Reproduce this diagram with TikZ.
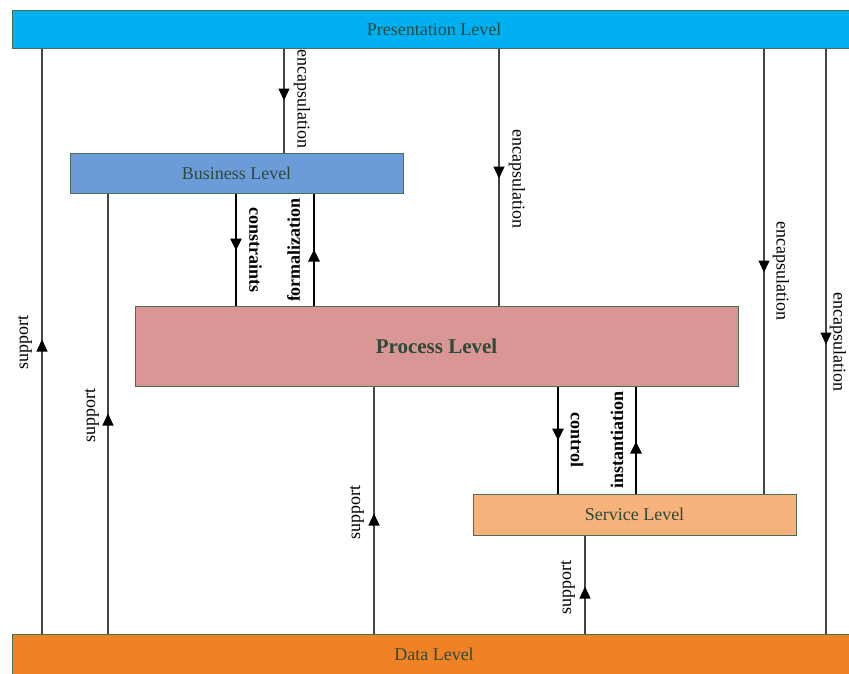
\documentclass[tikz,border=0pt]{standalone}
\usepackage{fontspec}
\setmainfont{Liberation Serif}
\usetikzlibrary{arrows.meta,decorations.markings}
\definecolor{presc}{HTML}{00B0F0}
\definecolor{busc}{HTML}{6C9BD9}
\definecolor{procc}{HTML}{D99694}
\definecolor{servc}{HTML}{F6B27A}
\definecolor{datac}{HTML}{F08226}
\definecolor{txtc}{HTML}{2E4A3A}
\definecolor{edgec}{HTML}{4A6E55}
\definecolor{linec}{HTML}{444444}
\tikzset{
  lvl/.style={draw=edgec, line width=1pt, text=txtc, inner sep=0pt, font=\fontsize{18}{20}\selectfont},
  conn/.style={draw=linec, line width=1.3pt},
  strong/.style={draw=black, line width=2.6pt},
  arrowat/.style={postaction=decorate, decoration={markings, mark=at position #1 with {\arrow[black]{Triangle[width=11pt,length=12pt]}}}},
  lab/.style={font=\fontsize{18}{20}\selectfont, inner sep=0pt},
  blab/.style={font=\fontsize{18}{20}\selectfont\bfseries, inner sep=0pt},
}
\begin{document}
\begin{tikzpicture}[x=1pt,y=-1pt]
\useasboundingbox (0,0) rectangle (849,673);
% levels
\node[lvl, fill=presc, minimum width=844pt, minimum height=38pt] (pres) at (434,29) {Presentation Level};
\node[lvl, fill=datac, minimum width=844pt, minimum height=40pt] (data) at (434,654) {Data Level};
\node[lvl, fill=busc, minimum width=333pt, minimum height=40pt] (bus) at (236.5,173) {Business Level};
\node[lvl, fill=procc, minimum width=603pt, minimum height=80pt, font=\fontsize{21}{24}\selectfont\bfseries] (proc) at (436.5,346) {Process Level};
\node[lvl, fill=servc, minimum width=323pt, minimum height=41pt] (serv) at (634.5,514.5) {Service Level};
% connectors
\draw[conn, arrowat=294pt] (data.north -| 42,0) -- (pres.south -| 42,0);
\draw[conn, arrowat=220pt] (data.north -| 108,0) -- (bus.south -| 108,0);
\draw[conn, arrowat=52pt] (pres.south -| 284,0) -- (bus.north -| 284,0);
\draw[strong, arrowat=57pt] (bus.south -| 236,0) -- (proc.north -| 236,0);
\draw[strong, arrowat=56pt] (proc.north -| 314,0) -- (bus.south -| 314,0);
\draw[conn, arrowat=130pt] (pres.south -| 499,0) -- (proc.north -| 499,0);
\draw[conn, arrowat=120pt] (data.north -| 374,0) -- (proc.south -| 374,0);
\draw[strong, arrowat=54pt] (proc.south -| 558,0) -- (serv.north -| 558,0);
\draw[strong, arrowat=52pt] (serv.north -| 636,0) -- (proc.south -| 636,0);
\draw[conn, arrowat=224pt] (pres.south -| 764,0) -- (serv.north -| 764,0);
\draw[conn, arrowat=296pt] (pres.south -| 826,0) -- (data.north -| 826,0);
\draw[conn, arrowat=47pt] (data.north -| 585,0) -- (serv.south -| 585,0);
% labels
\node[lab, rotate=90] (s1) at (25,342) {support};
\node[lab, rotate=90] (s2) at (92,415) {support};
\node[lab, rotate=-90] (e1) at (302,99) {encapsulation};
\node[blab, rotate=-90] (c1) at (255.5,250) {constraints};
\node[blab, rotate=90] (f1) at (293.5,250) {formalization};
\node[lab, rotate=-90] (e2) at (517,179) {encapsulation};
\node[lab, rotate=90] (s3) at (357,512) {support};
\node[blab, rotate=-90] (c2) at (577,440) {control};
\node[blab, rotate=90] (i1) at (617,440) {instantiation};
\node[lab, rotate=-90] (e3) at (781,271) {encapsulation};
\node[lab, rotate=-90] (e4) at (838,342) {encapsulation};
\node[lab, rotate=90] (s4) at (568,587) {support};
\end{tikzpicture}
\end{document}
